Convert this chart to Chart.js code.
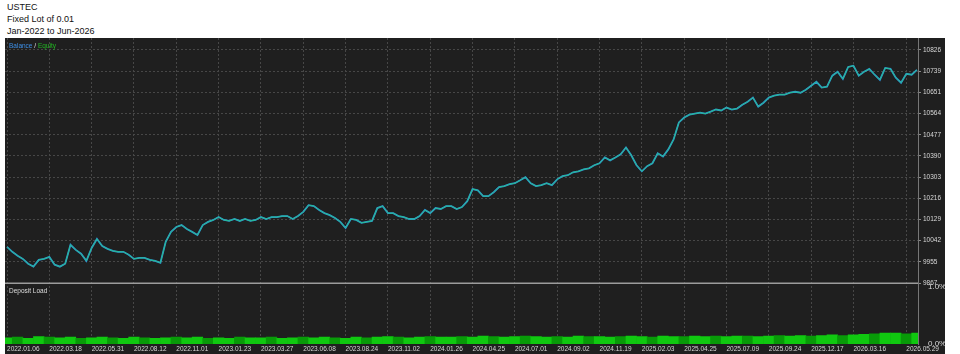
<!DOCTYPE html>
<html>
<head>
<meta charset="utf-8">
<script src="https://cdn.jsdelivr.net/npm/chart.js@4"></script>
<style>
  body { margin: 0; width: 960px; height: 354px; overflow: hidden; background: #fff; position: relative; font-family: "Liberation Sans", Arial, sans-serif; }
  #head { position: absolute; left: 7px; top: 1px; font-size: 9px; line-height: 12px; color: #111; }
  #panel { position: absolute; left: 5px; top: 38px; width: 940px; height: 316px; background: #1f1f1f; }
  #legend { position: absolute; left: 9px; top: 42px; font-size: 6.5px; color: #ddd; }
  #loadTitle { position: absolute; left: 9px; top: 287px; font-size: 6.5px; color: #ddd; }
</style>
</head>
<body>
<div id="head">USTEC<br>Fixed Lot of 0.01<br>Jan-2022 to Jun-2026</div>
<div id="panel"><canvas id="chart" width="940" height="316"></canvas></div>
<div id="legend"><span style="color:#3d8fe6">Balance</span> / <span style="color:#22b822">Equity</span></div>
<div id="loadTitle">Deposit Load</div>
<script>
// x axis: trade index, labels sit on every 8th point
const dateLabels = ['2022.01.06', '2022.03.18', '2022.05.31', '2022.08.12', '2022.11.01', '2023.01.23',
  '2023.03.27', '2023.06.08', '2023.08.24', '2023.11.02', '2024.01.26', '2024.04.25', '2024.07.01',
  '2024.09.02', '2024.11.19', '2025.02.03', '2025.04.25', '2025.07.09', '2025.09.24', '2025.12.17',
  '2026.03.16', '2026.05.29'];
const dateTickIdx = [0, 8, 16, 24, 32, 40, 48, 56, 64, 72, 80, 88, 96, 104, 112, 120, 128, 136, 144, 152, 160, 170];

const yTicks = [9867, 9955, 10042, 10129, 10216, 10303, 10390, 10477, 10564, 10651, 10739, 10826];
const loadTicks = [0, 1];

const balance = [
  10016, 9996, 9980, 9967, 9947, 9935, 9963, 9967, 9975, 9943, 9935, 9947, 10025, 10004, 9988, 9959,
  10012, 10049, 10020, 10008, 10000, 9996, 9996, 9984, 9967, 9971, 9971, 9963, 9959, 9951, 10037, 10078,
  10098, 10106, 10090, 10078, 10065, 10106, 10119, 10127, 10139, 10127, 10123, 10131, 10123, 10131, 10123, 10127,
  10139, 10131, 10139, 10139, 10143, 10143, 10131, 10143, 10160, 10188, 10184, 10168, 10155, 10147, 10135, 10119,
  10094, 10131, 10127, 10115, 10119, 10123, 10176, 10184, 10155, 10155, 10143, 10139, 10131, 10131, 10143, 10168,
  10155, 10176, 10172, 10184, 10184, 10172, 10180, 10204, 10254, 10249, 10225, 10225, 10241, 10262, 10266, 10274,
  10278, 10290, 10303, 10278, 10266, 10270, 10278, 10270, 10294, 10307, 10311, 10323, 10327, 10335, 10339, 10352,
  10360, 10384, 10372, 10384, 10397, 10425, 10393, 10352, 10327, 10348, 10360, 10401, 10388, 10417, 10458, 10528,
  10548, 10560, 10564, 10568, 10564, 10572, 10581, 10577, 10589, 10581, 10585, 10601, 10613, 10630, 10593, 10609,
  10630, 10638, 10642, 10642, 10650, 10654, 10650, 10662, 10679, 10695, 10671, 10675, 10720, 10736, 10707, 10756,
  10761, 10720, 10736, 10748, 10724, 10703, 10752, 10748, 10712, 10691, 10728, 10724, 10744
];
// equity sits on top of balance almost everywhere
const equity = balance;

// deposit load %, one bar per two trades
const depositLoad = [
  0.11, 0.12, 0.10, 0.13, 0.12, 0.11, 0.12, 0.10, 0.11, 0.12, 0.11, 0.10, 0.12, 0.11, 0.10, 0.11, 0.12, 0.11, 0.12, 0.10,
  0.11, 0.10, 0.12, 0.11, 0.11, 0.12, 0.10, 0.11, 0.12, 0.11, 0.12, 0.11, 0.10, 0.12, 0.11, 0.12, 0.13, 0.12, 0.11, 0.12,
  0.13, 0.12, 0.12, 0.13, 0.12, 0.14, 0.13, 0.12, 0.13, 0.14, 0.13, 0.12, 0.13, 0.12, 0.14, 0.13, 0.13, 0.12, 0.13, 0.14,
  0.13, 0.12, 0.14, 0.13, 0.13, 0.14, 0.13, 0.14, 0.13, 0.14, 0.14, 0.13, 0.14, 0.15, 0.14, 0.15, 0.14, 0.15, 0.16, 0.15,
  0.16, 0.17, 0.18, 0.19, 0.19, 0.18, 0.19
];

Chart.defaults.font.family = '"Liberation Sans", Arial, sans-serif';

const gridColor = '#474747';
const tickColor = '#d8d8d8';

// light separator between the equity panel and the deposit load panel
const panelLine = {
  id: 'panelLine',
  afterDraw(chart) {
    const ctx = chart.ctx;
    const area = chart.chartArea;
    const top = chart.scales.yLoad.top;
    ctx.save();
    ctx.strokeStyle = '#9c9c9c';
    ctx.lineWidth = 1.5;
    ctx.beginPath();
    ctx.moveTo(area.left, top);
    ctx.lineTo(area.right, top);
    ctx.stroke();
    ctx.restore();
  }
};

new Chart(document.getElementById('chart'), {
  data: {
    labels: balance.map((v, i) => i),
    datasets: [
      {
        type: 'line', label: 'Balance', data: balance, yAxisID: 'y', order: 1,
        borderColor: '#2e90d8', borderWidth: 1.8, pointRadius: 0, tension: 0
      },
      {
        type: 'line', label: 'Equity', data: equity, yAxisID: 'y', order: 0,
        borderColor: '#25c08e', borderWidth: 1, pointRadius: 0, tension: 0
      },
      {
        type: 'bar', label: 'Deposit Load', yAxisID: 'yLoad', order: 2,
        data: depositLoad.map((v, i) => ({ x: i * 2, y: v })),
        backgroundColor: ctx => (ctx.dataIndex % 3 === 1 ? '#089a08' : '#10c810'),
        barPercentage: 1, categoryPercentage: 1, borderWidth: 0
      }
    ]
  },
  options: {
    responsive: false,
    animation: false,
    layout: { padding: 0 },
    plugins: { legend: { display: false }, tooltip: { enabled: false } },
    scales: {
      x: {
        type: 'linear', min: -0.38, max: 172.2, offset: false,
        afterBuildTicks: s => { s.ticks = dateTickIdx.map(v => ({ value: v })); },
        afterFit: s => { s.paddingLeft = 0; s.paddingRight = 0; s.height = 10; },
        ticks: {
          autoSkip: false, maxRotation: 0, align: 'start', padding: 1,
          color: tickColor, font: { size: 6.5 },
          callback: (v, i) => dateLabels[i]
        },
        grid: { color: gridColor, drawTicks: false, offset: false },
        border: { display: false, dash: [2, 2] }
      },
      y: {
        position: 'right', stack: 'panels', stackWeight: 246,
        min: 9867, max: 10875,
        afterBuildTicks: s => { s.ticks = yTicks.map(v => ({ value: v })); },
        afterFit: s => { s.width = 27; s.paddingTop = 0; s.paddingBottom = 0; },
        ticks: { autoSkip: false, color: tickColor, font: { size: 6.5 }, padding: 2, callback: v => String(v) },
        grid: { color: gridColor, tickLength: 3, tickColor: '#8a8a8a' },
        border: { color: '#777', dash: [2, 2] }
      },
      yLoad: {
        position: 'right', stack: 'panels', stackWeight: 61,
        min: 0, max: 1.07,
        afterBuildTicks: s => { s.ticks = loadTicks.map(v => ({ value: v })); },
        afterFit: s => { s.width = 27; s.paddingTop = 0; s.paddingBottom = 0; },
        ticks: { autoSkip: false, color: tickColor, font: { size: 8 }, padding: 2, callback: v => v.toFixed(1) + '%' },
        grid: { display: false },
        border: { color: '#777' }
      }
    }
  },
  plugins: [panelLine]
});
</script>
</body>
</html>
